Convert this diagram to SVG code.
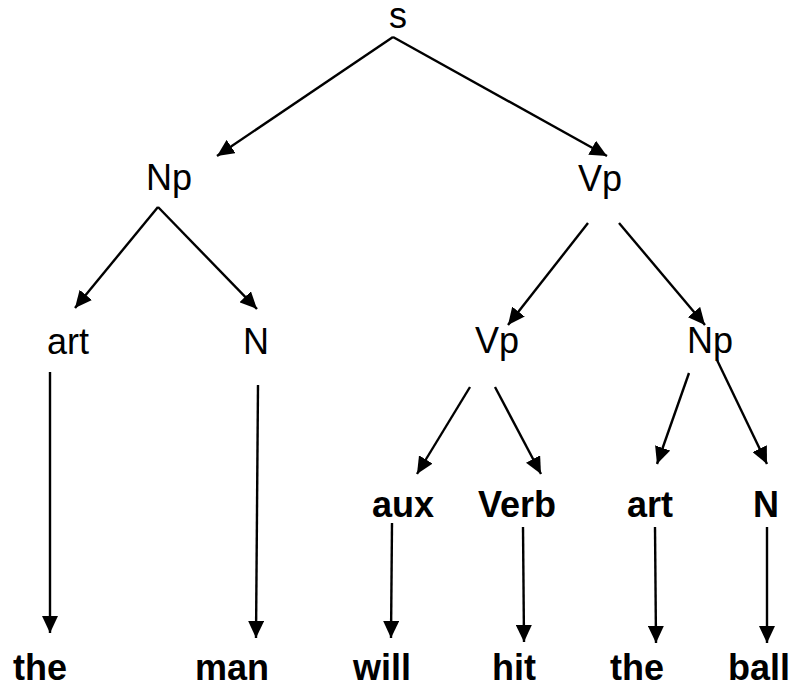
<svg xmlns="http://www.w3.org/2000/svg" width="792" height="689" viewBox="0 0 792 689">
<style>
  .n { font-family: "Liberation Sans", Arial, sans-serif; font-size: 36px; fill: #000; }
  .b { font-family: "Liberation Sans", Arial, sans-serif; font-size: 36px; font-weight: bold; fill: #000; }
  .c line { stroke: #000; stroke-width: 2.4; fill: none; marker-end: url(#ah); }
</style>
<defs>
  <marker id="ah" markerUnits="userSpaceOnUse" markerWidth="18" markerHeight="16" refX="17" refY="8" orient="auto" viewBox="0 0 18 16">
    <path d="M0,0 L17,8 L0,16 Z" fill="#000"/>
  </marker>
</defs>
<g id="connectors" class="c">
  <line x1="393" y1="37" x2="217" y2="156"/>
  <line x1="393" y1="37" x2="607" y2="156"/>
  <line x1="158" y1="207" x2="75" y2="308"/>
  <line x1="158" y1="207" x2="257" y2="309"/>
  <line x1="588" y1="223" x2="508" y2="325"/>
  <line x1="619" y1="223" x2="705" y2="325"/>
  <line x1="50" y1="372" x2="50" y2="633"/>
  <line x1="258" y1="385" x2="256" y2="638"/>
  <line x1="470" y1="387" x2="417" y2="474"/>
  <line x1="495" y1="387" x2="541" y2="474"/>
  <line x1="689" y1="373" x2="657" y2="464"/>
  <line x1="717" y1="360" x2="767" y2="464"/>
  <line x1="392" y1="523" x2="391" y2="638"/>
  <line x1="523" y1="527" x2="524" y2="642"/>
  <line x1="655" y1="527" x2="656" y2="643"/>
  <line x1="767" y1="527" x2="767" y2="643"/>
</g>
<g id="s"><text class="n" x="389" y="28">s</text></g>
<g id="np1"><text class="n" x="146" y="190">Np</text></g>
<g id="vp1"><text class="n" x="578" y="191">Vp</text></g>
<g id="art1"><text class="n" x="47" y="354">art</text></g>
<g id="n1"><text class="n" x="243" y="354">N</text></g>
<g id="vp2"><text class="n" x="475" y="353">Vp</text></g>
<g id="np2"><text class="n" x="687" y="353">Np</text></g>
<g id="aux"><text class="b" x="372" y="517">aux</text></g>
<g id="verb"><text class="b" x="478" y="517">Verb</text></g>
<g id="art2"><text class="b" x="627" y="517">art</text></g>
<g id="n2"><text class="b" x="753" y="517">N</text></g>
<g id="the1"><text class="b" x="13" y="680">the</text></g>
<g id="man"><text class="b" x="195" y="680">man</text></g>
<g id="will"><text class="b" x="353" y="680">will</text></g>
<g id="hit"><text class="b" x="492" y="680">hit</text></g>
<g id="the2"><text class="b" x="610" y="680">the</text></g>
<g id="ball"><text class="b" x="728" y="680">ball</text></g>
</svg>
